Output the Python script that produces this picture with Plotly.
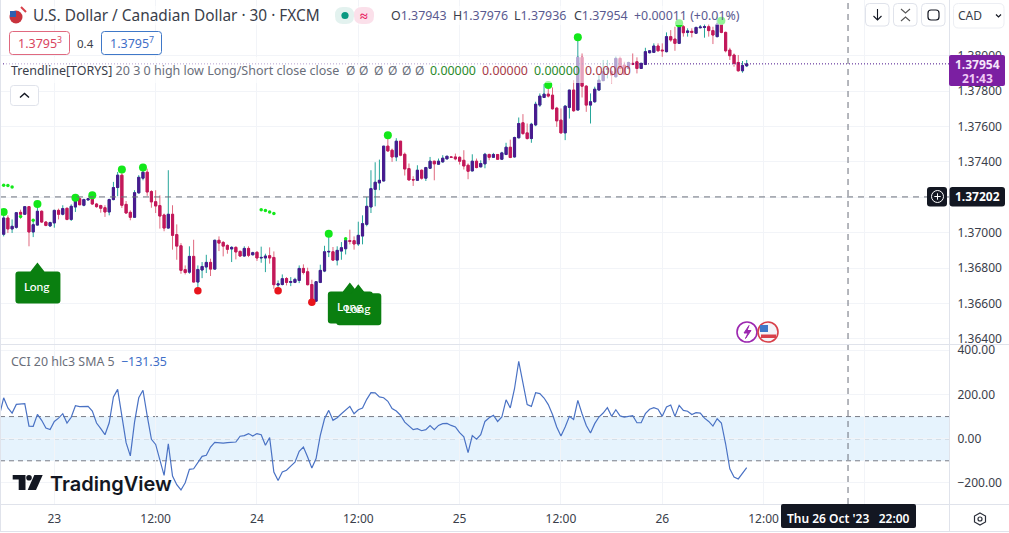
import pandas as pd
import plotly.graph_objects as go

# USD/CAD 30 min bars
first_bar = "2023-10-22 18:00"
opens = [1.36991,1.37083,1.37021,1.37030,1.37115,1.37104,1.37147,1.37004,1.37043,1.37121,
1.37060,1.37038,1.37055,1.37126,1.37104,1.37138,1.37075,1.37145,1.37192,1.37155,
1.37185,1.37192,1.37162,1.37153,1.37141,1.37117,1.37187,1.37255,1.37325,1.37160,
1.37115,1.37087,1.37225,1.37308,1.37342,1.37232,1.37175,1.37153,1.37100,1.37026,
1.37104,1.36989,1.36926,1.36791,1.36777,1.36866,1.36721,1.36789,1.36806,1.36832,
1.36794,1.36957,1.36945,1.36928,1.36908,1.36917,1.36894,1.36868,1.36911,1.36875,
1.36889,1.36857,1.36857,1.36870,1.36860,1.36704,1.36707,1.36741,1.36719,1.36719,
1.36730,1.36798,1.36779,1.36707,1.36613,1.36719,1.36783,1.36891,1.36892,1.36845,
1.36896,1.36909,1.36955,1.36955,1.36936,1.36981,1.37047,1.37145,1.37245,1.37281,
1.37292,1.37489,1.37466,1.37428,1.37517,1.37443,1.37362,1.37300,1.37296,1.37353,
1.37308,1.37364,1.37404,1.37387,1.37400,1.37417,1.37428,1.37428,1.37426,1.37409,
1.37381,1.37349,1.37404,1.37372,1.37389,1.37442,1.37426,1.37442,1.37415,1.37442,
1.37483,1.37428,1.37536,1.37621,1.37564,1.37532,1.37609,1.37721,1.37764,1.37783,
1.37777,1.37704,1.37636,1.37564,1.37708,1.37806,1.37693,1.37991,1.37828,1.37721,
1.37740,1.37806,1.37859,1.37923,1.37910,1.37881,1.37985,1.37947,1.37928,1.37957,
1.37966,1.37928,1.37951,1.38017,1.38019,1.38055,1.38032,1.38023,1.38108,1.38094,
1.38070,1.38164,1.38132,1.38138,1.38127,1.38158,1.38160,1.38164,1.38142,1.38108,
1.38179,1.38132,1.38032,1.38004,1.37962,1.37915,1.37943]
highs = [1.37098,1.37098,1.37075,1.37117,1.37130,1.37147,1.37147,1.37074,1.37155,1.37126,
1.37066,1.37062,1.37130,1.37136,1.37155,1.37141,1.37160,1.37202,1.37202,1.37192,
1.37196,1.37198,1.37168,1.37158,1.37155,1.37192,1.37287,1.37343,1.37338,1.37179,
1.37126,1.37240,1.37325,1.37353,1.37362,1.37240,1.37240,1.37211,1.37108,1.37353,
1.37155,1.37047,1.36941,1.36815,1.36923,1.36960,1.36815,1.36834,1.36875,1.36853,
1.36960,1.36979,1.36953,1.36934,1.36923,1.36923,1.36900,1.36923,1.36923,1.36892,
1.36896,1.36921,1.36881,1.36917,1.36894,1.36730,1.36764,1.36749,1.36749,1.36745,
1.36815,1.36821,1.36802,1.36734,1.36726,1.36819,1.36926,1.36975,1.36919,1.36923,
1.36947,1.36972,1.37017,1.36979,1.37062,1.37098,1.37202,1.37353,1.37398,1.37413,
1.37489,1.37551,1.37475,1.37534,1.37517,1.37453,1.37391,1.37319,1.37381,1.37357,
1.37372,1.37428,1.37406,1.37419,1.37438,1.37434,1.37432,1.37447,1.37432,1.37466,
1.37391,1.37443,1.37419,1.37409,1.37451,1.37447,1.37451,1.37443,1.37457,1.37508,
1.37526,1.37542,1.37651,1.37670,1.37617,1.37621,1.37740,1.37787,1.37840,1.37815,
1.37821,1.37711,1.37702,1.37721,1.37806,1.37862,1.38089,1.38013,1.37834,1.37787,
1.37825,1.37891,1.37976,1.37976,1.37919,1.37994,1.37994,1.37966,1.37966,1.38013,
1.37991,1.37960,1.38045,1.38032,1.38070,1.38070,1.38070,1.38132,1.38145,1.38164,
1.38174,1.38174,1.38155,1.38155,1.38164,1.38174,1.38179,1.38179,1.38164,1.38221,
1.38202,1.38136,1.38045,1.38013,1.38004,1.37970,1.37976]
lows = [1.36979,1.36998,1.36998,1.37023,1.37079,1.37104,1.36923,1.36975,1.37041,1.37055,
1.37036,1.37032,1.37028,1.37075,1.37098,1.37070,1.37066,1.37117,1.37155,1.37149,
1.37183,1.37157,1.37141,1.37113,1.37089,1.37098,1.37183,1.37206,1.37140,1.37108,
1.37070,1.37085,1.37221,1.37296,1.37208,1.37141,1.37111,1.37023,1.37008,1.37023,
1.36904,1.36847,1.36768,1.36764,1.36768,1.36719,1.36683,1.36743,1.36772,1.36755,
1.36792,1.36896,1.36866,1.36881,1.36834,1.36849,1.36864,1.36866,1.36862,1.36872,
1.36840,1.36830,1.36777,1.36825,1.36683,1.36683,1.36702,1.36702,1.36698,1.36715,
1.36715,1.36764,1.36702,1.36598,1.36611,1.36715,1.36777,1.36862,1.36843,1.36815,
1.36847,1.36877,1.36934,1.36904,1.36925,1.36934,1.37036,1.37111,1.37149,1.37240,
1.37291,1.37457,1.37400,1.37404,1.37432,1.37323,1.37296,1.37264,1.37292,1.37300,
1.37292,1.37362,1.37296,1.37383,1.37396,1.37415,1.37423,1.37409,1.37385,1.37357,
1.37302,1.37347,1.37364,1.37370,1.37364,1.37409,1.37425,1.37413,1.37413,1.37438,
1.37421,1.37425,1.37534,1.37553,1.37526,1.37508,1.37602,1.37711,1.37764,1.37764,
1.37696,1.37598,1.37560,1.37523,1.37645,1.37683,1.37693,1.37764,1.37683,1.37617,
1.37734,1.37806,1.37859,1.37872,1.37843,1.37877,1.37891,1.37891,1.37923,1.37947,
1.37900,1.37925,1.37947,1.38013,1.38017,1.38023,1.37994,1.38019,1.38079,1.38028,
1.38066,1.38108,1.38108,1.38104,1.38123,1.38155,1.38102,1.38108,1.38066,1.38104,
1.38127,1.38019,1.37976,1.37938,1.37910,1.37904,1.37936]
closes = [1.37083,1.37021,1.37036,1.37113,1.37104,1.37147,1.37004,1.37045,1.37121,1.37060,
1.37041,1.37057,1.37126,1.37104,1.37136,1.37075,1.37149,1.37192,1.37158,1.37187,
1.37192,1.37162,1.37147,1.37138,1.37117,1.37187,1.37255,1.37325,1.37155,1.37111,
1.37087,1.37226,1.37313,1.37342,1.37230,1.37174,1.37151,1.37094,1.37026,1.37104,
1.36985,1.36924,1.36787,1.36775,1.36866,1.36721,1.36792,1.36809,1.36832,1.36794,
1.36957,1.36941,1.36924,1.36906,1.36917,1.36891,1.36868,1.36911,1.36872,1.36887,
1.36857,1.36860,1.36868,1.36857,1.36706,1.36711,1.36740,1.36719,1.36724,1.36736,
1.36798,1.36775,1.36706,1.36613,1.36723,1.36787,1.36892,1.36894,1.36845,1.36900,
1.36915,1.36957,1.36951,1.36936,1.36985,1.37051,1.37149,1.37249,1.37285,1.37296,
1.37489,1.37462,1.37428,1.37517,1.37438,1.37360,1.37298,1.37298,1.37353,1.37308,
1.37368,1.37404,1.37389,1.37404,1.37421,1.37432,1.37426,1.37417,1.37404,1.37377,
1.37347,1.37404,1.37368,1.37391,1.37443,1.37426,1.37442,1.37415,1.37451,1.37483,
1.37425,1.37538,1.37617,1.37560,1.37532,1.37613,1.37726,1.37772,1.37783,1.37772,
1.37700,1.37632,1.37564,1.37715,1.37806,1.37689,1.37991,1.37828,1.37721,1.37740,
1.37811,1.37862,1.37910,1.37928,1.37891,1.37985,1.37928,1.37896,1.37962,1.37951,
1.37928,1.37957,1.38023,1.38028,1.38055,1.38028,1.38028,1.38108,1.38089,1.38070,
1.38164,1.38130,1.38140,1.38132,1.38160,1.38162,1.38164,1.38142,1.38117,1.38179,
1.38132,1.38028,1.38000,1.37957,1.37915,1.37945,1.37954]

# CCI starts one bar earlier, the line comes in from the left edge
cci = [106,185,139,116,155,158,158,57,56,110,83,48,41,78,93,113,71,97,149,145,146,146,125,71,45,18,72,189,223,106,
-18,-78,75,185,219,103,-3,-26,-98,-166,-23,-169,-208,-232,-199,-139,-136,-109,-80,-75,-38,-17,-20,-20,-18,-15,-15,11,14,23,
12,23,18,-30,5,-151,-189,-151,-143,-124,-106,-57,-38,-83,-133,-90,15,90,128,83,95,113,128,146,113,131,139,178,208,207,
189,185,169,136,125,106,75,56,41,45,36,41,59,41,60,68,69,60,53,27,8,-63,14,-2,18,78,95,106,78,98,176,139,
226,350,249,154,146,208,204,184,154,109,53,12,53,101,87,173,113,60,26,68,98,116,140,101,131,103,98,100,104,72,
72,113,133,140,133,101,143,152,101,151,128,124,109,118,116,93,78,57,90,71,-23,-136,-173,-182,-158,-131.35]

# pivot dots (bar number, price)
pivot_high_bars = [0,8,17,21,28,33,77,91,129,136,160,170]
pivot_high_prices = [1.37117,1.37162,1.37198,1.37211,1.37357,1.37368,1.36994,1.37551,1.37834,1.38104,1.38183,1.38198]
pivot_low_bars = [46,65,73]
pivot_low_prices = [1.36672,1.36672,1.36607]
small_bars = [0,1,2,61,62,63,64,4,7,81]
small_prices = [1.37268,1.37266,1.37258,1.37130,1.37125,1.37117,1.37108,1.37092,1.37070,1.36966]
long_bars = [8,82,84]
long_prices = [1.36832,1.36719,1.36708]

price_ticks = [1.364,1.366,1.368,1.370,1.372,1.374,1.376,1.378,1.380]
price_labels = ["1.36400","1.36600","1.36800","1.37000","1.37200","1.37400","1.37600","1.37800","1.38000"]
cci_ticks = [-200,0,200,400]
cci_labels = ["\u2212200.00","0.00","200.00","400.00"]
time_ticks = ["2023-10-23 00:00","2023-10-23 12:00","2023-10-24 00:00","2023-10-24 12:00","2023-10-25 00:00",
              "2023-10-25 12:00","2023-10-26 00:00","2023-10-26 12:00","2023-10-27 00:00"]
time_labels = ["23","12:00","24","12:00","25","12:00","26","12:00",""]
last_close = 1.37954
cross_price = 1.37202
cross_time = "2023-10-26 22:00"

W, H = 1009, 533
PANE_R = 949.5
UP, DOWN = "#4a1a8f", "#c2185b"
UP_WICK, DOWN_WICK = "#26a69a", "#e0697f"
GRID = "#f2f4f8"
BORDER = "#e0e3eb"
TEXT = "#3a3e4a"
FONT = "Noto Sans"

times = pd.date_range(first_bar, periods=len(opens), freq="30min")
cci_times = pd.date_range(times[0] - pd.Timedelta(minutes=30), periods=len(cci), freq="30min")


def px(x):
    return x / W


def py(y):
    return 1 - y / H


fig = go.Figure()

# wicks first, then bodies on top so wick and body colours can differ
fig.add_trace(go.Candlestick(
    x=times, open=opens, high=highs, low=lows, close=closes,
    increasing=dict(line=dict(color=UP_WICK, width=1), fillcolor=UP),
    decreasing=dict(line=dict(color=DOWN_WICK, width=1), fillcolor=DOWN),
    whiskerwidth=0, hoverinfo="skip", showlegend=False))
fig.add_trace(go.Candlestick(
    x=times, open=opens, close=closes,
    high=[max(o, c) for o, c in zip(opens, closes)],
    low=[min(o, c) for o, c in zip(opens, closes)],
    increasing=dict(line=dict(color=UP, width=1), fillcolor=UP),
    decreasing=dict(line=dict(color=DOWN, width=1), fillcolor=DOWN),
    whiskerwidth=0, hoverinfo="skip", showlegend=False))

fig.add_trace(go.Scatter(x=times[small_bars], y=small_prices, mode="markers",
                         marker=dict(color="#13e81a", size=3.5), hoverinfo="skip", showlegend=False))
fig.add_trace(go.Scatter(x=times[pivot_high_bars], y=pivot_high_prices, mode="markers",
                         marker=dict(color="#13e81a", size=8), hoverinfo="skip", showlegend=False))
fig.add_trace(go.Scatter(x=times[pivot_low_bars], y=pivot_low_prices, mode="markers",
                         marker=dict(color="#e8141c", size=7.5), hoverinfo="skip", showlegend=False))

fig.add_trace(go.Scatter(x=cci_times, y=cci, mode="lines", xaxis="x2", yaxis="y2",
                         line=dict(color="#4a72c4", width=1.2), hoverinfo="skip", showlegend=False))

shapes = []
notes = []


def text(x, y, s, size=12, color=TEXT, anchor="left", weight=None, family=FONT):
    f = dict(family=family, size=size, color=color)
    if weight:
        f["weight"] = weight
    notes.append(dict(x=px(x), y=py(y), xref="paper", yref="paper", text=s, showarrow=False,
                      xanchor=anchor, yanchor="middle", font=f, borderpad=0))


def box(x0, y0, x1, y1, fill=None, line=None, width=1, path_r=0, layer="above"):
    if path_r:
        r = path_r
        a, b, c, d = px(x0), py(y0), px(x1), py(y1)
        rx, ry = r / W, r / H
        p = (f"M {a+rx},{b} L {c-rx},{b} Q {c},{b} {c},{b-ry} L {c},{d+ry} Q {c},{d} {c-rx},{d} "
             f"L {a+rx},{d} Q {a},{d} {a},{d+ry} L {a},{b-ry} Q {a},{b} {a+rx},{b} Z")
        shapes.append(dict(type="path", path=p, xref="paper", yref="paper", fillcolor=fill or "rgba(0,0,0,0)",
                           line=dict(color=line or "rgba(0,0,0,0)", width=width), layer=layer))
    else:
        shapes.append(dict(type="rect", xref="paper", yref="paper", x0=px(x0), x1=px(x1), y0=py(y0), y1=py(y1),
                           fillcolor=fill or "rgba(0,0,0,0)", line=dict(color=line or "rgba(0,0,0,0)", width=width),
                           layer=layer))


def stroke(points, color=TEXT, width=1.2, close=False, fill=None):
    p = "M " + " L ".join(f"{px(x)},{py(y)}" for x, y in points) + (" Z" if close else "")
    shapes.append(dict(type="path", path=p, xref="paper", yref="paper", line=dict(color=color, width=width),
                       fillcolor=fill or "rgba(0,0,0,0)", layer="above"))


def disc(cx, cy, r, fill=None, line=None, width=1):
    shapes.append(dict(type="circle", xref="paper", yref="paper", x0=px(cx - r), x1=px(cx + r),
                       y0=py(cy + r), y1=py(cy - r), fillcolor=fill or "rgba(0,0,0,0)",
                       line=dict(color=line or "rgba(0,0,0,0)", width=width), layer="above"))


# CCI band and its dashed levels
shapes.append(dict(type="rect", xref="paper", yref="y2", x0=0, x1=px(PANE_R), y0=-100, y1=100,
                   fillcolor="#e3f2fd", line=dict(width=0), layer="below", opacity=0.9))
for lvl in [100, 0, -100]:
    shapes.append(dict(type="line", xref="paper", yref="y2", x0=0, x1=px(PANE_R), y0=lvl, y1=lvl,
                       line=dict(color="#787b86", width=1, dash="5px,4px"), layer="below"))

# last price dotted line and crosshair
shapes.append(dict(type="line", xref="paper", yref="y", x0=0, x1=px(PANE_R), y0=last_close, y1=last_close,
                   line=dict(color="#4a148c", width=1, dash="1px,2px")))
shapes.append(dict(type="line", xref="paper", yref="y", x0=0, x1=px(PANE_R), y0=cross_price, y1=cross_price,
                   line=dict(color="#6b6f7b", width=1, dash="6px,5px")))
shapes.append(dict(type="line", xref="x", yref="paper", x0=cross_time, x1=cross_time, y0=py(504), y1=1,
                   line=dict(color="#6b6f7b", width=1, dash="6px,5px")))

# translucent backing behind the two top legend rows
box(4, 6, 742, 25, fill="rgba(255,255,255,0.55)")
box(4, 57, 632, 83, fill="rgba(255,255,255,0.6)")

# pane borders
for pts in ([(PANE_R, 0), (PANE_R, 531)], [(0, 344.5), (1009, 344.5)], [(0, 504.5), (1009, 504.5)],
            [(0, 531.5), (1009, 531.5)], [(0.5, 0), (0.5, 531)]):
    stroke(pts, color=BORDER, width=1)

# Long labels hang below their bar, sized in pixels
for b, p in zip(long_bars, long_prices):
    path = ("M 0,0 L 7,-9 L 20,-9 Q 23,-9 23,-12 L 23,-38 Q 23,-41 20,-41 L -19,-41 Q -22,-41 -22,-38 "
            "L -22,-12 Q -22,-9 -19,-9 L -7,-9 Z")
    shapes.append(dict(type="path", path=path, xref="x", yref="y", xsizemode="pixel", ysizemode="pixel",
                       xanchor=times[b], yanchor=p, fillcolor="#0a7f10", line=dict(width=0), layer="above"))
    notes.append(dict(x=times[b], y=p, xref="x", yref="y", text="Long", showarrow=False, yshift=-24,
                      font=dict(family="Lato", size=12, color="#ffffff", weight=500)))

# header
disc(16, 17, 6.5, fill="#c8323c")
box(10, 11, 16, 17, fill="#2f5fb0")
stroke([(21, 7), (26, 12)], color="#d8404a", width=2)
text(32, 15.5, "U.S. Dollar / Canadian Dollar \u00b7 30 \u00b7 FXCM", size=15.4, color="#3a3e4a")
box(335, 7, 354, 24, fill="#e3f2ef", path_r=8)
box(354, 7, 374, 24, fill="#fbe0ea", path_r=8)
disc(345, 15.5, 3.6, fill="#089981")
text(363.5, 15.5, "\u2248", size=14, color="#e91e63", anchor="center", weight=700)
v = "#5a5a90"
ohlc_x = [390, 452, 513, 573]
ohlc_letters = ["O", "H", "L", "C"]
ohlc_values = ["1.37943", "1.37976", "1.37936", "1.37954"]
for x, letter, val in zip(ohlc_x, ohlc_letters, ohlc_values):
    text(x, 15.5, f"<span style='color:{TEXT}'>{letter}</span><span style='color:{v}'>{val}</span>", size=12.4)
text(633, 15.5, "+0.00011 (+0.01%)", size=12.4, color=v)

box(9.5, 31.5, 69.5, 54.5, fill="#ffffff", line="#e0697f", path_r=3)
text(39.5, 43.5, "1.3795<sup>3</sup>", size=12.5, color="#d9455f", anchor="center")
text(85, 43, "0.4", size=11.5, color=TEXT, anchor="center")
box(101.5, 31.5, 161.5, 54.5, fill="#ffffff", line="#3f78c8", path_r=3)
text(131.5, 43.5, "1.3795<sup>7</sup>", size=12.5, color="#3f6fc8", anchor="center")

g, r, grey = "#2a8a2a", "#a83a48", "#6a6e7a"
text(10, 71, f"<span style='color:{TEXT}'>Trendline[TORYS]</span> <span style='color:{grey}'>20 3 0 high low Long/Short close close</span>", size=12.5)
for x in (345, 358, 373, 387, 401, 414):
    text(x, 71, "\u00d8", size=12, color=grey)
for x, c in zip((429, 481, 533, 584), (g, r, g, r)):
    text(x, 71, "0.00000", size=12.4, color=c)

box(10.5, 85.5, 38.5, 105.5, fill="#ffffff", line=BORDER, path_r=3)
stroke([(20, 97.5), (24.5, 93.5), (29, 97.5)], color="#131722", width=1.4)

# top right buttons
for x0 in (865.5, 893.5, 921.5):
    box(x0, 3.5, x0 + 23.5, 26, fill="#ffffff", line=BORDER, path_r=4)
stroke([(877.5, 9), (877.5, 20)], color="#131722", width=1.1)
stroke([(873.5, 16), (877.5, 20), (881.5, 16)], color="#131722", width=1.1)
stroke([(901, 9), (905.5, 13), (910, 9)], color="#555", width=1.1)
stroke([(901, 21), (905.5, 17), (910, 21)], color="#555", width=1.1)
box(928, 10, 939, 20, line="#131722", width=1.2, path_r=3)
box(953.5, 3.5, 1004, 28, fill="#ffffff", line="#eceef3", path_r=5)
text(957, 16, "CAD", size=12, color=TEXT)
stroke([(996, 14.5), (998.5, 17), (1001, 14.5)], color="#131722", width=1.2)

# price labels on the scale
box(949, 55, 1005, 86, fill="#7b1fa2", path_r=2)
text(977, 64, "1.37954", size=12, color="#f5e6fa", anchor="center", weight=700)
text(977, 78, "21:43", size=12, color="#f0c8f5", anchor="center", weight=700)
box(949.5, 187, 1005, 206.5, fill="#131722", path_r=3)
text(977, 196.5, "1.37202", size=12, color="#ffffff", anchor="center", weight=700)
box(927, 187, 947, 206.5, fill="#131722", path_r=3)
disc(937.5, 196.5, 6, line="#ffffff", width=1)
stroke([(937.5, 193.3), (937.5, 199.7)], color="#ffffff", width=1)
stroke([(934.3, 196.5), (940.7, 196.5)], color="#ffffff", width=1)

# event markers
disc(747, 332, 10, fill="#ffffff", line="#9c27b0", width=1.6)
stroke([(749, 325.5), (744, 333), (748, 333), (745.5, 338.5), (751, 330.5), (747, 330.5)],
       color="#9c27b0", width=1, close=True, fill="#9c27b0")
disc(768, 332, 10, fill="#f4f4f8", line="#d8404a", width=1.6)
box(760, 325, 768, 332, fill="#3f78c8")
box(761, 334.5, 776, 338, fill="#d8404a")

# date label on the time scale
box(781, 504, 916, 528, fill="#131722", path_r=2)
text(848.5, 518, "Thu 26 Oct '23\u00a0\u00a0\u00a022:00", size=12, color="#ffffff", anchor="center", weight=600)

# settings hexagon
stroke([(980, 513), (985.5, 516), (985.5, 522), (980, 525), (974.5, 522), (974.5, 516)], color="#2a2e39", width=1.2, close=True)
disc(980, 519, 2, line="#2a2e39", width=1.2)

# CCI legend
text(10, 362, "CCI 20 hlc3 SMA 5", size=12.4, color=grey)
text(120, 362, "\u2212131.35", size=12.4, color="#3f6fc8")

# TradingView mark
ink = "#131722"
stroke([(12.7, 475), (25.5, 475), (25.5, 490), (18.7, 490), (18.7, 479.6), (12.7, 479.6)], color=ink, width=0, close=True, fill=ink)
disc(29, 477.8, 2.8, fill=ink)
stroke([(34.3, 475), (42.7, 475), (36, 490), (27.7, 490)], color=ink, width=0, close=True, fill=ink)
text(48.5, 483.5, "TradingView", size=20, color=ink, weight=600, family="Inter")

fig.update_layout(
    width=W, height=H, autosize=False, margin=dict(l=0, r=0, t=0, b=0),
    paper_bgcolor="#ffffff", plot_bgcolor="#ffffff", showlegend=False,
    boxgap=0.28, dragmode=False, hovermode=False,
    font=dict(family=FONT, size=12, color=TEXT),
    shapes=shapes, annotations=notes,
    xaxis=dict(domain=[0, PANE_R / W], anchor="y", type="date", range=["2023-10-22 17:34", "2023-10-27 10:01"],
               tickvals=time_ticks, showticklabels=False, showgrid=True, gridcolor=GRID, zeroline=False,
               showline=False, ticks="", rangeslider=dict(visible=False), fixedrange=True, automargin=False),
    yaxis=dict(domain=[py(344.5), 1], anchor="x", side="right", range=[1.36368, 1.38315],
               tickvals=price_ticks, ticktext=price_labels, showgrid=True, gridcolor=GRID, zeroline=False,
               ticks="", ticklabelstandoff=7, tickfont=dict(color=TEXT, size=12), fixedrange=True, automargin=False),
    xaxis2=dict(domain=[0, PANE_R / W], anchor="y2", type="date", matches="x",
                tickvals=time_ticks, ticktext=time_labels, showgrid=True, gridcolor=GRID, zeroline=False,
                showline=False, ticks="", ticklabelstandoff=5, tickfont=dict(color=TEXT, size=12), fixedrange=True,
                automargin=False),
    yaxis2=dict(domain=[py(504.5), py(344.5)], anchor="x2", side="right", range=[-297.7, 426],
                tickvals=cci_ticks, ticktext=cci_labels, showgrid=True, gridcolor=GRID, zeroline=False,
                ticks="", ticklabelstandoff=7, tickfont=dict(color=TEXT, size=12), fixedrange=True, automargin=False),
)

fig.write_html("out.html", config={"displayModeBar": False},
               post_script="document.body.style.margin='0';document.body.style.overflow='hidden';")
